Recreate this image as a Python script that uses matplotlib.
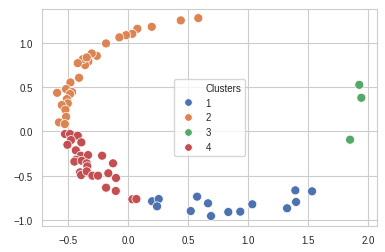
import matplotlib
matplotlib.use("Agg")
import matplotlib.pyplot as plt
from matplotlib.lines import Line2D
import seaborn as sns
import pandas as pd

# cluster 1 (blue)
x1 = [0.198, 0.253, 0.239, 0.52, 0.573, 0.664, 0.689, 0.833, 0.933, 1.033, 1.323, 1.392, 1.398, 1.531]
y1 = [-0.787, -0.762, -0.844, -0.897, -0.735, -0.81, -0.953, -0.908, -0.904, -0.821, -0.866, -0.664, -0.795, -0.675]

# cluster 2 (orange)
x2 = [0.583, 0.437, 0.195, 0.075, 0.033, -0.019, -0.075, -0.186, -0.263, -0.305, -0.333, -0.361,
      -0.380, -0.347, -0.422, -0.411, -0.483, -0.519, -0.469, -0.486, -0.594, -0.513, -0.505,
      -0.555, -0.525, -0.519, -0.578, -0.53]
y2 = [1.275, 1.249, 1.177, 1.155, 1.098, 1.083, 1.058, 0.99, 0.850, 0.877, 0.787, 0.746,
      0.813, 0.832, 0.768, 0.603, 0.551, 0.476, 0.442, 0.42, 0.434, 0.363, 0.315,
      0.296, 0.243, 0.164, 0.101, 0.082]

# cluster 3 (green)
x3 = [1.925, 1.942, 1.848]
y3 = [0.524, 0.378, -0.094]

# cluster 4 (red)
x4 = [-0.528, -0.486, -0.422, -0.478, -0.392, -0.508, -0.438, -0.397, -0.336, -0.438, -0.45,
      -0.389, -0.347, -0.342, -0.219, -0.128, -0.403, -0.394, -0.347, -0.3, -0.253, -0.167,
      -0.103, -0.186, -0.105, 0.033, 0.067]
y4 = [-0.030, -0.030, -0.049, -0.098, -0.124, -0.151, -0.214, -0.274, -0.267, -0.319, -0.341,
      -0.331, -0.36, -0.394, -0.274, -0.36, -0.461, -0.492, -0.45, -0.499, -0.499, -0.472,
      -0.525, -0.634, -0.671, -0.765, -0.762]

clusters = ["1", "2", "3", "4"]

df = pd.DataFrame({
    "x": x1 + x2 + x3 + x4,
    "y": y1 + y2 + y3 + y4,
    "Clusters": ["1"] * len(x1) + ["2"] * len(x2) + ["3"] * len(x3) + ["4"] * len(x4),
})

sns.set_style("whitegrid")
plt.rcParams["font.family"] = ["Liberation Sans", "DejaVu Sans"]

fig, ax = plt.subplots(figsize=(3.85, 2.53), dpi=100)
fig.subplots_adjust(left=0.110, right=0.980, bottom=0.104, top=0.960)

palette = sns.color_palette("deep", 4)
sns.scatterplot(data=df, x="x", y="y", hue="Clusters", hue_order=clusters,
                palette=palette, s=42, ax=ax, legend=False)

ax.set_xlim(-0.717, 2.075)
ax.set_ylim(-1.062, 1.376)
ax.set_xticks([-0.5, 0.0, 0.5, 1.0, 1.5, 2.0])
ax.set_yticks([-1.0, -0.5, 0.0, 0.5, 1.0])
ax.set_xlabel("")
ax.set_ylabel("")
ax.tick_params(labelsize=7)

# old-style seaborn legend: title is an entry with an empty handle
handles = [Line2D([], [], linestyle="", marker="")]
handles += [Line2D([], [], linestyle="", marker="o", markersize=5.5, color=c,
                   markeredgecolor="white", markeredgewidth=0.6) for c in palette]
labels = ["Clusters"] + clusters
ax.legend(handles, labels, loc="center", fontsize=7)

fig.savefig("out.png", dpi=100)
